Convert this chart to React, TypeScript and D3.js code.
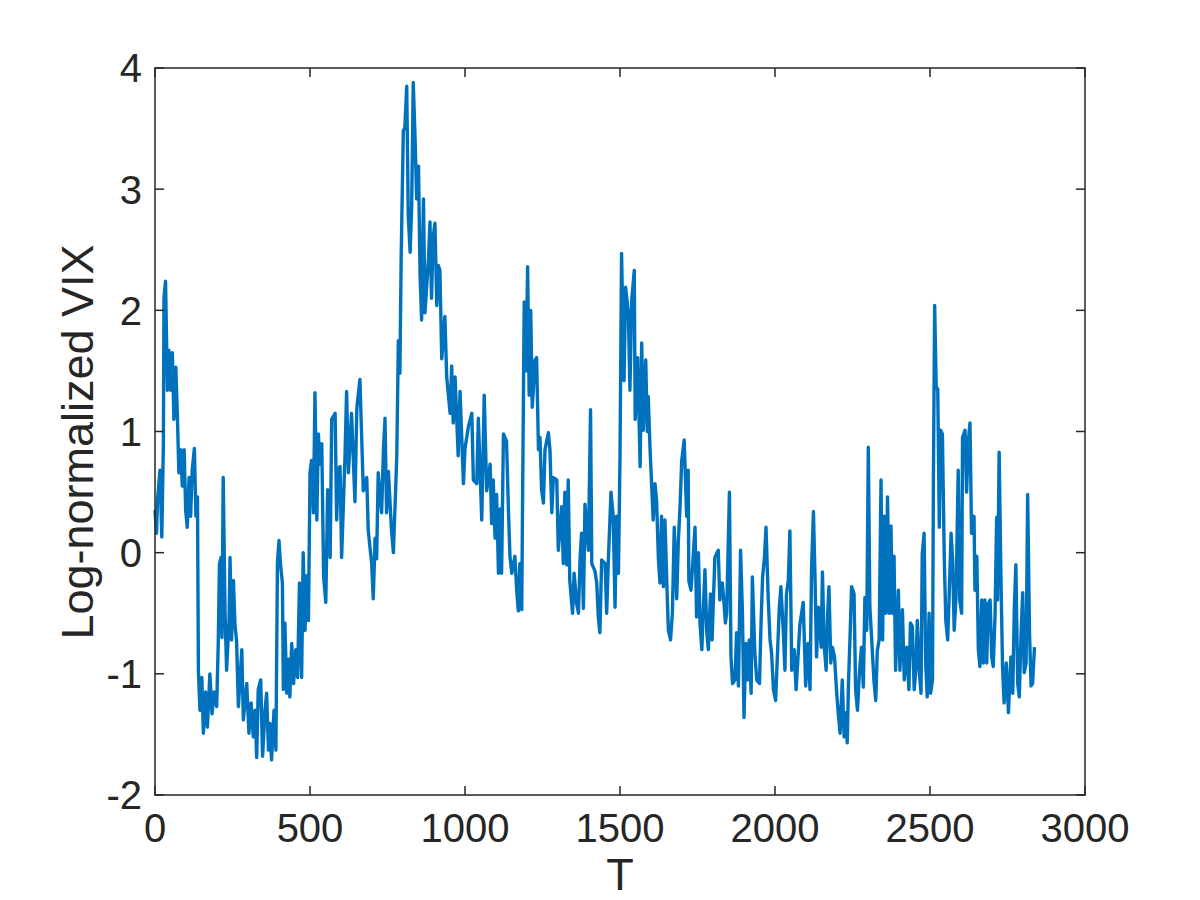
import { useEffect, useRef } from 'react';
import * as d3 from 'd3';

// [T, log-normalized VIX]
const samples: [number, number][] = [
  [0, 0.35], [5, 0.16], [8, 0.43], [16, 0.68], [22, 0.13], [27, 0.9], [29, 2.11], [34, 2.24], [40, 1.34], [45, 1.67],
  [51, 1.34], [56, 1.65], [61, 1.1], [67, 1.53], [72, 1.15], [77, 0.66], [83, 0.85], [88, 0.55], [94, 0.85], [99, 0.35],
  [104, 0.21], [110, 0.62], [115, 0.3], [120, 0.68], [127, 0.86], [132, 0.3], [137, 0.46], [140, -0.97], [145, -1.3], [151, -1.03],
  [156, -1.49], [163, -1.15], [169, -1.44], [177, -1.0], [184, -1.33], [191, -1.15], [199, -1.27], [204, -0.75], [208, -0.09], [213, -0.04],
  [216, -0.7], [220, 0.62], [226, -0.5], [231, -0.97], [239, -0.55], [242, -0.04], [247, -0.72], [253, -0.23], [258, -0.6], [263, -0.72],
  [269, -1.27], [280, -0.8], [285, -1.38], [296, -1.08], [303, -1.49], [310, -1.24], [317, -1.52], [323, -1.3], [328, -1.69], [333, -1.13],
  [341, -1.05], [347, -1.68], [355, -1.3], [360, -1.16], [366, -1.63], [371, -1.41], [376, -1.71], [384, -1.3], [390, -1.63], [395, -0.08],
  [400, 0.1], [405, -0.1], [411, -0.25], [414, -1.13], [419, -0.58], [425, -1.16], [430, -0.88], [435, -1.19], [441, -0.75], [447, -1.08],
  [454, -0.8], [460, -1.03], [466, -0.25], [473, -1.03], [478, 0.0], [484, -0.64], [489, -0.19], [495, -0.56], [500, 0.66], [505, 0.76],
  [511, 0.33], [516, 1.32], [522, 0.27], [527, 0.98], [532, 0.73], [538, 0.9], [544, -0.2], [551, -0.41], [557, 0.52], [565, -0.04],
  [570, 1.1], [581, 1.15], [586, 0.27], [591, 0.69], [597, 0.71], [602, -0.04], [613, 0.8], [618, 1.33], [624, 0.66], [634, 1.15],
  [645, 0.42], [651, 1.19], [661, 1.43], [672, 0.51], [683, 0.62], [688, 0.18], [699, -0.09], [704, -0.38], [710, 0.12], [715, -0.05],
  [720, 0.66], [731, 0.33], [737, 0.85], [742, 1.11], [747, 0.33], [753, 0.67], [763, 0.18], [769, 0.0], [774, 0.36], [780, 0.8],
  [785, 1.75], [790, 1.48], [794, 2.42], [801, 3.48], [806, 3.51], [812, 3.85], [817, 2.78], [823, 2.48], [828, 2.86], [833, 3.88],
  [839, 3.42], [844, 2.92], [850, 3.19], [855, 2.3], [860, 1.92], [866, 2.92], [871, 1.98], [882, 2.42], [887, 2.73], [892, 2.1],
  [897, 2.6], [903, 2.72], [909, 2.04], [914, 2.37], [919, 2.33], [925, 1.6], [935, 1.95], [941, 1.45], [952, 1.15], [957, 1.54],
  [962, 1.07], [968, 1.45], [978, 0.8], [984, 1.33], [995, 0.57], [1000, 0.86], [1011, 1.04], [1022, 1.15], [1027, 0.6], [1038, 0.57],
  [1043, 1.11], [1054, 0.27], [1062, 1.3], [1070, 0.51], [1081, 0.73], [1086, 0.24], [1091, 0.6], [1097, 0.12], [1102, 0.48], [1108, -0.17],
  [1113, 0.36], [1118, -0.17], [1124, 0.98], [1134, 0.92], [1140, 0.36], [1145, -0.03], [1151, -0.17], [1161, -0.03], [1167, -0.32], [1172, -0.48],
  [1177, -0.09], [1183, -0.47], [1186, 0.51], [1191, 2.07], [1197, 1.5], [1202, 2.36], [1207, 1.3], [1212, 2.0], [1217, 1.2], [1226, 1.59],
  [1231, 1.61], [1237, 0.85], [1242, 0.95], [1247, 0.52], [1253, 0.41], [1258, 0.85], [1269, 0.99], [1274, 0.85], [1280, 0.33], [1285, 0.62],
  [1296, 0.6], [1301, 0.02], [1312, 0.38], [1317, -0.09], [1322, 0.5], [1328, -0.1], [1333, 0.6], [1338, -0.23], [1347, -0.5], [1352, -0.17],
  [1360, -0.42], [1366, -0.5], [1371, -0.06], [1376, 0.16], [1382, -0.46], [1387, 0.4], [1398, 0.02], [1405, 1.18], [1409, -0.09], [1419, -0.15],
  [1425, -0.25], [1430, -0.53], [1435, -0.66], [1441, -0.06], [1452, -0.09], [1457, -0.5], [1462, -0.09], [1471, 0.5], [1478, 0.3], [1484, -0.45],
  [1489, 0.3], [1495, -0.17], [1500, 0.79], [1505, 2.47], [1513, 1.42], [1518, 2.19], [1527, 1.98], [1532, 1.34], [1538, 2.09], [1546, 2.33],
  [1549, 1.1], [1557, 1.61], [1565, 0.71], [1570, 1.73], [1575, 1.01], [1583, 1.59], [1588, 1.0], [1591, 1.29], [1597, 0.85], [1602, 0.57],
  [1607, 0.27], [1613, 0.57], [1618, 0.43], [1624, -0.06], [1629, -0.25], [1634, 0.3], [1640, -0.28], [1645, 0.27], [1651, -0.25], [1656, -0.64],
  [1663, -0.72], [1669, -0.5], [1675, 0.21], [1683, -0.38], [1688, 0.08], [1694, 0.4], [1699, 0.76], [1707, 0.93], [1715, 0.3], [1720, 0.68],
  [1722, -0.23], [1729, -0.31], [1737, 0.0], [1742, 0.21], [1747, -0.53], [1753, 0.0], [1758, -0.58], [1764, -0.8], [1769, -0.45], [1774, -0.14],
  [1780, -0.66], [1785, -0.8], [1792, -0.34], [1797, -0.72], [1806, -0.04], [1817, 0.02], [1822, -0.39], [1830, -0.25], [1835, -0.4], [1840, -0.58],
  [1844, -0.5], [1853, 0.5], [1858, -0.86], [1863, -1.08], [1871, -1.05], [1876, -0.66], [1882, -1.1], [1889, 0.02], [1895, -0.5], [1900, -1.36],
  [1906, -0.75], [1912, -1.05], [1917, -0.72], [1923, -1.16], [1927, -0.2], [1935, -0.83], [1941, -1.05], [1950, -1.08], [1955, -0.58], [1960, -0.2],
  [1966, -0.04], [1971, 0.21], [1978, -0.37], [1984, -0.72], [1989, -0.83], [1995, -1.13], [2002, -1.22], [2008, -0.83], [2014, -0.45], [2019, -0.28],
  [2027, -0.66], [2032, -0.97], [2037, -0.34], [2043, -0.23], [2048, 0.18], [2054, -0.97], [2062, -0.8], [2068, -1.13], [2075, -0.83], [2080, -0.6],
  [2091, -0.41], [2099, -1.1], [2106, -0.75], [2113, -1.13], [2118, -0.12], [2124, 0.34], [2129, -0.2], [2134, -0.86], [2140, -0.45], [2149, -0.78],
  [2153, -0.16], [2159, -0.78], [2165, -0.97], [2170, -0.5], [2174, -0.28], [2180, -0.91], [2185, -0.78], [2192, -0.86], [2199, -1.16], [2204, -1.32],
  [2210, -1.49], [2217, -1.05], [2223, -1.52], [2228, -1.32], [2233, -1.57], [2237, -1.08], [2242, -0.7], [2247, -0.28], [2255, -0.34], [2260, -1.13],
  [2266, -1.3], [2272, -1.0], [2279, -0.78], [2285, -1.11], [2290, -0.37], [2296, -0.64], [2301, 0.87], [2306, -0.45], [2312, -0.72], [2319, -1.05],
  [2325, -1.22], [2330, -0.81], [2336, -0.72], [2342, 0.6], [2347, -0.72], [2352, 0.3], [2358, -0.5], [2363, 0.46], [2369, -0.5], [2374, 0.22],
  [2379, -0.5], [2384, -0.03], [2389, -0.97], [2398, -0.31], [2403, -0.97], [2411, -0.47], [2417, -1.05], [2425, -0.78], [2432, -1.13], [2437, -0.58],
  [2443, -0.61], [2449, -1.13], [2455, -0.94], [2459, -0.56], [2466, -1.0], [2471, -1.16], [2475, -0.01], [2481, 0.16], [2486, -0.91], [2491, -1.19],
  [2497, -0.5], [2502, -1.16], [2508, -1.05], [2511, 0.6], [2515, 2.04], [2520, 1.37], [2525, 1.35], [2530, 0.21], [2534, 1.01], [2540, 0.98],
  [2546, -0.04], [2551, -0.56], [2557, -0.72], [2562, -0.34], [2568, 0.16], [2573, -0.06], [2578, -0.64], [2584, -0.36], [2591, 0.68], [2596, -0.39],
  [2602, -0.5], [2605, 0.95], [2613, 1.01], [2618, 0.5], [2624, 0.93], [2629, 1.07], [2634, 0.16], [2642, 0.3], [2645, -0.31], [2651, -0.03],
  [2656, -0.8], [2661, -0.94], [2667, -0.39], [2672, -0.91], [2677, -0.39], [2683, -0.91], [2688, -0.42], [2694, -0.39], [2699, -0.86], [2704, -0.94],
  [2710, -0.5], [2715, 0.29], [2718, -0.39], [2723, 0.83], [2729, -0.22], [2734, -0.94], [2739, -1.24], [2746, -0.91], [2753, -1.32], [2761, -0.86],
  [2767, -1.16], [2772, -0.45], [2777, -0.1], [2783, -1.08], [2788, -1.19], [2794, -0.66], [2799, -0.33], [2804, -0.99], [2810, -0.91], [2815, 0.48],
  [2821, -0.66], [2826, -1.1], [2831, -1.08], [2837, -0.78],
];

const xTicks = [0, 500, 1000, 1500, 2000, 2500, 3000];
const yTicks = [-2, -1, 0, 1, 2, 3, 4];

const W = 1200;
const H = 900;
const box = { left: 155, right: 1085, top: 68, bottom: 795 };
const ink = '#262626';
const font = '"Liberation Sans", Arial, Helvetica, sans-serif';

export default function App() {
  const ref = useRef<SVGSVGElement | null>(null);

  useEffect(() => {
    const el = ref.current;
    if (!el) return;
    const svg = d3.select(el);
    svg.selectAll('*').remove();

    const x = d3.scaleLinear().domain([0, 3000]).range([box.left, box.right]);
    const y = d3.scaleLinear().domain([-2, 4]).range([box.bottom, box.top]);

    svg.append('rect').attr('width', W).attr('height', H).attr('fill', '#fff');

    const line = d3
      .line<[number, number]>()
      .x((d) => x(d[0]))
      .y((d) => y(d[1]));

    svg
      .append('path')
      .datum(samples)
      .attr('d', line)
      .attr('fill', 'none')
      .attr('stroke', '#0072BD')
      .attr('stroke-width', 3.4)
      .attr('stroke-linejoin', 'round');

    // box
    svg
      .append('rect')
      .attr('x', box.left)
      .attr('y', box.top)
      .attr('width', box.right - box.left)
      .attr('height', box.bottom - box.top)
      .attr('fill', 'none')
      .attr('stroke', ink)
      .attr('stroke-width', 1.5);

    const tl = 9;
    const ticks = svg.append('g').attr('stroke', ink).attr('stroke-width', 1.5);
    xTicks.forEach((t) => {
      ticks.append('line').attr('x1', x(t)).attr('x2', x(t)).attr('y1', box.bottom).attr('y2', box.bottom - tl);
      ticks.append('line').attr('x1', x(t)).attr('x2', x(t)).attr('y1', box.top).attr('y2', box.top + tl);
    });
    yTicks.forEach((t) => {
      ticks.append('line').attr('x1', box.left).attr('x2', box.left + tl).attr('y1', y(t)).attr('y2', y(t));
      ticks.append('line').attr('x1', box.right).attr('x2', box.right - tl).attr('y1', y(t)).attr('y2', y(t));
    });

    svg
      .append('g')
      .selectAll('text')
      .data(xTicks)
      .join('text')
      .attr('x', (d) => x(d))
      .attr('y', 842)
      .attr('text-anchor', 'middle')
      .attr('font-family', font)
      .attr('font-size', 40)
      .attr('fill', ink)
      .text((d) => String(d));

    svg
      .append('g')
      .selectAll('text')
      .data(yTicks)
      .join('text')
      .attr('x', 142)
      .attr('y', (d) => y(d))
      .attr('dy', '0.36em')
      .attr('text-anchor', 'end')
      .attr('font-family', font)
      .attr('font-size', 40)
      .attr('fill', ink)
      .text((d) => String(d));

    svg
      .append('text')
      .attr('x', (box.left + box.right) / 2)
      .attr('y', 890)
      .attr('text-anchor', 'middle')
      .attr('font-family', font)
      .attr('font-size', 45)
      .attr('fill', ink)
      .text('T');

    svg
      .append('text')
      .attr('transform', `translate(93,442) rotate(-90)`)
      .attr('text-anchor', 'middle')
      .attr('font-family', font)
      .attr('font-size', 45)
      .attr('fill', ink)
      .text('Log-normalized VIX');
  }, []);

  return <svg ref={ref} width={W} height={H} style={{ position: 'absolute', left: 0, top: 0 }} />;
}
